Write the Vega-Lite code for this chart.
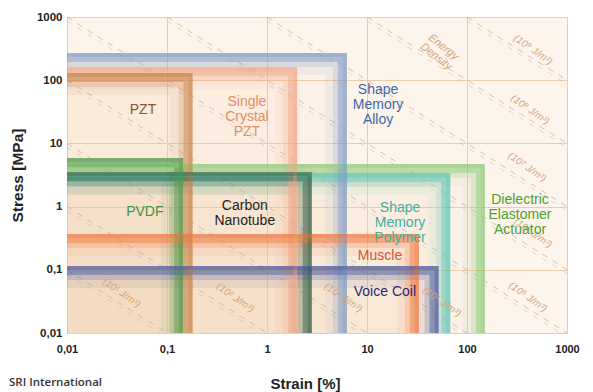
{
  "$schema": "https://vega.github.io/schema/vega-lite/v6.json",
  "width": 500,
  "height": 316,
  "autosize": "none",
  "padding": {"left": 67, "top": 17, "right": 26, "bottom": 59},
  "background": "white",
  "config": {
    "view": {"fill": "#fdf5ec", "stroke": "#c9bdb2", "strokeWidth": 1},
    "font": "Liberation Sans"
  },
  "title": {
    "text": "SRI International",
    "orient": "bottom",
    "anchor": "start",
    "frame": "group",
    "font": "Open Sans",
    "fontSize": 11.5,
    "fontWeight": 600,
    "color": "#333",
    "dx": -58,
    "offset": -14
  },
  "datasets": {
    "act": [
      {"name": "DEA", "strain": 151, "stress": 4.7},
      {"name": "SMP", "strain": 68, "stress": 3.4},
      {"name": "SMA", "strain": 6.3, "stress": 270},
      {"name": "SCPZT", "strain": 2.0, "stress": 160},
      {"name": "PZT", "strain": 0.18, "stress": 130},
      {"name": "CNT", "strain": 2.8, "stress": 3.5},
      {"name": "PVDF", "strain": 0.145, "stress": 5.9},
      {"name": "Muscle", "strain": 33, "stress": 0.37},
      {"name": "VoiceCoil", "strain": 52, "stress": 0.115}
    ],
    "ed": [
      {"k": 1, "strain": 0.01, "stress": 0.1}, {"k": 1, "strain": 0.1, "stress": 0.01},
      {"k": 2, "strain": 0.01, "stress": 1}, {"k": 2, "strain": 1, "stress": 0.01},
      {"k": 3, "strain": 0.01, "stress": 10}, {"k": 3, "strain": 10, "stress": 0.01},
      {"k": 4, "strain": 0.01, "stress": 100}, {"k": 4, "strain": 100, "stress": 0.01},
      {"k": 5, "strain": 0.01, "stress": 1000}, {"k": 5, "strain": 1000, "stress": 0.01},
      {"k": 6, "strain": 0.1, "stress": 1000}, {"k": 6, "strain": 1000, "stress": 0.1},
      {"k": 7, "strain": 1, "stress": 1000}, {"k": 7, "strain": 1000, "stress": 1},
      {"k": 8, "strain": 10, "stress": 1000}, {"k": 8, "strain": 1000, "stress": 10},
      {"k": 9, "strain": 100, "stress": 1000}, {"k": 9, "strain": 1000, "stress": 100}
    ],
    "edl": [
      {"label": "(10¹ J/m³)", "strain": 0.035, "stress": 0.043},
      {"label": "(10² J/m³)", "strain": 0.48, "stress": 0.036},
      {"label": "(10³ J/m³)", "strain": 5.8, "stress": 0.036},
      {"label": "(10⁴ J/m³)", "strain": 56, "stress": 0.031},
      {"label": "(10⁵ J/m³)", "strain": 407, "stress": 0.037},
      {"label": "(10⁶ J/m³)", "strain": 457, "stress": 0.38},
      {"label": "(10⁷ J/m³)", "strain": 400, "stress": 4.2},
      {"label": "(10⁸ J/m³)", "strain": 427, "stress": 34},
      {"label": "(10⁹ J/m³)", "strain": 457, "stress": 302}
    ],
    "lbl": [
      {"name": "PZT", "label": "PZT", "strain": 0.0575, "stress": 34},
      {"name": "SCPZT", "label": "Single\nCrystal\nPZT", "strain": 0.63, "stress": 45},
      {"name": "SMA", "label": "Shape\nMemory\nAlloy", "strain": 12.9, "stress": 70},
      {"name": "PVDF", "label": "PVDF", "strain": 0.06, "stress": 0.82},
      {"name": "CNT", "label": "Carbon\nNanotube", "strain": 0.6, "stress": 1.02},
      {"name": "SMP", "label": "Shape\nMemory\nPolymer", "strain": 21.4, "stress": 0.95},
      {"name": "DEA", "label": "Dielectric\nElastomer\nActuator", "strain": 339, "stress": 1.27},
      {"name": "Muscle", "label": "Muscle", "strain": 13.5, "stress": 0.166},
      {"name": "VoiceCoil", "label": "Voice Coil", "strain": 15.1, "stress": 0.045}
    ]
  },
  "layer": [
    {
      "data": {"name": "act"},
      "mark": {"type": "rect", "clip": true, "color": "#f7c495", "opacity": 0.07},
      "encoding": {
        "x": {"field": "strain", "type": "quantitative", "scale": {"type": "log", "domain": [0.01, 1000], "nice": false},
          "axis": {
            "values": [0.01, 0.1, 1, 10, 100, 1000],
            "grid": true, "gridColor": "#ecccaa", "gridWidth": 1,
            "domain": false, "ticks": false,
            "labelExpr": "datum.value < 0.05 ? '0,01' : datum.value < 0.5 ? '0,1' : format(datum.value, 'd')",
            "labelFont": "Liberation Sans", "labelFontWeight": "bold", "labelFontSize": 11, "labelColor": "#222",
            "labelPadding": 10, "labelOverlap": false, "labelFlush": false,
            "title": "Strain [%]", "titleFont": "Liberation Sans", "titleFontSize": 15, "titleFontWeight": "bold", "titleColor": "#222",
            "titleX": 238, "titleY": 50, "titleBaseline": "middle", "titleAlign": "center"
          }},
        "x2": {"datum": 0.01},
        "y": {"field": "stress", "type": "quantitative", "scale": {"type": "log", "domain": [0.01, 1000], "nice": false},
          "axis": {
            "values": [0.01, 0.1, 1, 10, 100, 1000],
            "grid": true, "gridColor": "#ecccaa", "gridWidth": 1,
            "domain": false, "ticks": false,
            "labelExpr": "datum.value < 0.05 ? '0,01' : datum.value < 0.5 ? '0,1' : format(datum.value, 'd')",
            "labelFont": "Liberation Sans", "labelFontWeight": "bold", "labelFontSize": 11.5, "labelColor": "#222",
            "labelPadding": 5, "labelOverlap": false, "labelFlush": false,
            "title": "Stress [MPa]", "titleFont": "Liberation Sans", "titleFontSize": 15.5, "titleFontWeight": "bold", "titleColor": "#222",
            "titleX": -50, "titleY": 158, "titleBaseline": "middle", "titleAlign": "center", "titleAngle": -90
          }},
        "y2": {"datum": 0.01}
      }
    },
    {
      "data": {"name": "ed"},
      "mark": {"type": "line", "clip": true, "strokeDash": [6, 6], "color": "#c8b2a2", "strokeWidth": 1, "opacity": 0.8},
      "encoding": {
        "x": {"field": "strain", "type": "quantitative"},
        "y": {"field": "stress", "type": "quantitative"},
        "detail": {"field": "k", "type": "nominal"}
      }
    },
    {
      "data": {"name": "ed"},
      "mark": {"type": "line", "clip": true, "strokeDash": [5, 7], "color": "#c8b2a2", "strokeWidth": 1, "opacity": 0.5, "yOffset": 4},
      "encoding": {
        "x": {"field": "strain", "type": "quantitative"},
        "y": {"field": "stress", "type": "quantitative"},
        "detail": {"field": "k", "type": "nominal"}
      }
    },
    {
      "data": {"name": "act"},
      "mark": {"type": "rect", "clip": true, "filled": false, "strokeWidth": 22, "strokeOpacity": 0.09, "x2Offset": -40, "y2Offset": 40, "xOffset": -11, "yOffset": 11},
      "encoding": {
        "x": {"field": "strain", "type": "quantitative"},
        "x2": {"datum": 0.01},
        "y": {"field": "stress", "type": "quantitative"},
        "y2": {"datum": 0.01},
        "color": {"field": "name", "type": "nominal", "legend": null,
          "scale": {"domain": ["DEA", "SMP", "SMA", "SCPZT", "PZT", "CNT", "PVDF", "Muscle", "VoiceCoil"],
            "range": ["#8ccc7a", "#5cc6b6", "#7d9cc8", "#f4a684", "#c8844a", "#2f5a40", "#4a9a4a", "#f07a40", "#4a5aa0"]}}
      }
    },
    {
      "data": {"name": "act"},
      "mark": {"type": "rect", "clip": true, "filled": false, "strokeWidth": 14, "strokeOpacity": 0.2, "x2Offset": -40, "y2Offset": 40, "xOffset": -7, "yOffset": 7},
      "encoding": {
        "x": {"field": "strain", "type": "quantitative"},
        "x2": {"datum": 0.01},
        "y": {"field": "stress", "type": "quantitative"},
        "y2": {"datum": 0.01},
        "color": {"field": "name", "type": "nominal", "legend": null}
      }
    },
    {
      "data": {"name": "act"},
      "mark": {"type": "rect", "clip": true, "filled": false, "strokeWidth": 9, "strokeOpacity": 0.45, "x2Offset": -40, "y2Offset": 40, "xOffset": -4.5, "yOffset": 4.5},
      "encoding": {
        "x": {"field": "strain", "type": "quantitative"},
        "x2": {"datum": 0.01},
        "y": {"field": "stress", "type": "quantitative"},
        "y2": {"datum": 0.01},
        "color": {"field": "name", "type": "nominal", "legend": null}
      }
    },
    {
      "data": {"name": "act"},
      "mark": {"type": "rect", "clip": true, "filled": false, "strokeWidth": 4, "strokeOpacity": 0.35, "x2Offset": -40, "y2Offset": 40, "xOffset": -2, "yOffset": 2},
      "encoding": {
        "x": {"field": "strain", "type": "quantitative"},
        "x2": {"datum": 0.01},
        "y": {"field": "stress", "type": "quantitative"},
        "y2": {"datum": 0.01},
        "color": {"field": "name", "type": "nominal", "legend": null}
      }
    },
    {
      "data": {"name": "edl"},
      "mark": {"type": "text", "angle": 35, "font": "Liberation Sans", "fontStyle": "italic", "fontSize": 10, "color": "#d4a47c", "align": "center", "baseline": "middle"},
      "encoding": {
        "x": {"field": "strain", "type": "quantitative"},
        "y": {"field": "stress", "type": "quantitative"},
        "text": {"field": "label"}
      }
    },
    {
      "data": {"values": [{"label": "Energy\nDensity", "strain": 58, "stress": 333}]},
      "mark": {"type": "text", "angle": 38, "font": "Liberation Sans", "fontStyle": "italic", "fontSize": 11, "color": "#d2a47c", "align": "center", "baseline": "middle", "lineBreak": "\n", "lineHeight": 12},
      "encoding": {
        "x": {"field": "strain", "type": "quantitative"},
        "y": {"field": "stress", "type": "quantitative"},
        "text": {"field": "label"}
      }
    },
    {
      "data": {"name": "lbl"},
      "mark": {"type": "text", "font": "Liberation Sans", "fontSize": 14, "align": "center", "baseline": "middle", "lineBreak": "\n", "lineHeight": 15},
      "encoding": {
        "x": {"field": "strain", "type": "quantitative"},
        "y": {"field": "stress", "type": "quantitative"},
        "text": {"field": "label"},
        "fill": {"field": "name", "type": "nominal", "legend": null,
          "scale": {"domain": ["DEA", "SMP", "SMA", "SCPZT", "PZT", "CNT", "PVDF", "Muscle", "VoiceCoil"],
            "range": ["#4f9e30", "#3fb0a3", "#3d68a8", "#e48c66", "#8a5632", "#1e1e1e", "#3c963c", "#d6532c", "#26287a"]}}
      }
    }
  ]
}
